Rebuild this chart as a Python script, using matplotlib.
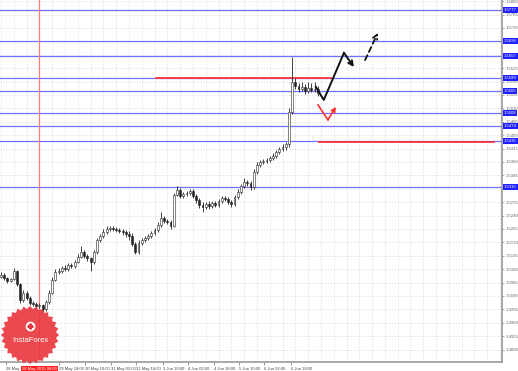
import numpy as np
import matplotlib.pyplot as plt
from matplotlib.transforms import blended_transform_factory

plt.rcParams['font.family'] = ['Liberation Sans', 'DejaVu Sans']

# H1 candles (close / high / low), first open separately
first_open = 1.5080
closes = [1.5085, 1.5077, 1.5069, 1.5074, 1.5095, 1.5061, 1.5019, 1.5038, 1.5025, 1.5012,
          1.5009, 1.5004, 1.5006, 1.4996, 1.5014, 1.5038, 1.5072, 1.5093, 1.5095, 1.5103,
          1.5100, 1.5111, 1.5108, 1.5119, 1.5132, 1.5145, 1.5134, 1.5129, 1.5119, 1.5145,
          1.5176, 1.5187, 1.5197, 1.5205, 1.5207, 1.5205, 1.5202, 1.5200, 1.5197, 1.5192,
          1.5187, 1.5166, 1.5145, 1.5168, 1.5176, 1.5181, 1.5187, 1.5194, 1.5202, 1.5215,
          1.5234, 1.5226, 1.5223, 1.5213, 1.5294, 1.5307, 1.5291, 1.5296, 1.5299, 1.5304,
          1.5291, 1.5281, 1.5268, 1.5262, 1.5270, 1.5265, 1.5273, 1.5268, 1.5278, 1.5286,
          1.5283, 1.5275, 1.5270, 1.5288, 1.5302, 1.5317, 1.5328, 1.5325, 1.5315, 1.5354,
          1.5372, 1.5380, 1.5382, 1.5385, 1.5390, 1.5396, 1.5406, 1.5414, 1.5419, 1.5427,
          1.5510, 1.5589, 1.5578, 1.5571, 1.5576, 1.5565, 1.5573, 1.5568, 1.5571, 1.5560]
highs = [1.5092, 1.5090, 1.5080, 1.5078, 1.5104, 1.5098, 1.5064, 1.5045, 1.5042, 1.5030,
         1.5018, 1.5014, 1.5012, 1.5010, 1.5020, 1.5045, 1.5080, 1.5100, 1.5103, 1.5108,
         1.5110, 1.5116, 1.5115, 1.5125, 1.5140, 1.5160, 1.5150, 1.5140, 1.5133, 1.5150,
         1.5182, 1.5193, 1.5204, 1.5212, 1.5214, 1.5212, 1.5210, 1.5207, 1.5206, 1.5203,
         1.5200, 1.5195, 1.5172, 1.5175, 1.5182, 1.5187, 1.5192, 1.5199, 1.5208, 1.5222,
         1.5248, 1.5240, 1.5231, 1.5228, 1.5300, 1.5318, 1.5312, 1.5302, 1.5305, 1.5310,
         1.5309, 1.5296, 1.5286, 1.5275, 1.5276, 1.5277, 1.5279, 1.5278, 1.5284, 1.5292,
         1.5291, 1.5288, 1.5280, 1.5294, 1.5309, 1.5323, 1.5338, 1.5334, 1.5330, 1.5362,
         1.5380, 1.5386, 1.5389, 1.5391, 1.5396, 1.5403, 1.5412, 1.5420, 1.5426, 1.5433,
         1.5520, 1.5655, 1.5600, 1.5586, 1.5590, 1.5583, 1.5590, 1.5585, 1.5588, 1.5578]
lows = [1.5076, 1.5072, 1.5064, 1.5066, 1.5071, 1.5055, 1.5012, 1.5015, 1.5020, 1.5006,
        1.5003, 1.4999, 1.4998, 1.4985, 1.4990, 1.5010, 1.5035, 1.5068, 1.5088, 1.5090,
        1.5094, 1.5096, 1.5102, 1.5104, 1.5115, 1.5128, 1.5128, 1.5120, 1.5095, 1.5114,
        1.5140, 1.5170, 1.5182, 1.5192, 1.5200, 1.5199, 1.5196, 1.5194, 1.5190, 1.5185,
        1.5175, 1.5160, 1.5140, 1.5140, 1.5162, 1.5171, 1.5176, 1.5182, 1.5190, 1.5198,
        1.5210, 1.5220, 1.5217, 1.5206, 1.5210, 1.5290, 1.5285, 1.5285, 1.5290, 1.5294,
        1.5285, 1.5272, 1.5260, 1.5250, 1.5256, 1.5258, 1.5260, 1.5262, 1.5263, 1.5272,
        1.5277, 1.5270, 1.5263, 1.5265, 1.5283, 1.5297, 1.5312, 1.5318, 1.5308, 1.5310,
        1.5348, 1.5366, 1.5374, 1.5376, 1.5380, 1.5385, 1.5390, 1.5400, 1.5408, 1.5412,
        1.5420, 1.5505, 1.5570, 1.5562, 1.5565, 1.5558, 1.5560, 1.5562, 1.5563, 1.5552]
opens = [first_open] + closes[:-1]

# levels
blue_levels = [1.5777, 1.5696, 1.5657, 1.5599, 1.5565, 1.5508, 1.5474, 1.5435, 1.5315]
red_level_hi = 1.5599
red_level_hi_span = (48.4, 103.1)
red_level_lo = 1.5432
red_level_lo_span = (99.4, 154.0)
marker_bar = 11.9
marker_label = "28 May 2015 08:00"

# forecast arrows (bar index, price)
black_x = [98.4, 100.9, 107.2, 110.3]
black_y = [1.5576, 1.5542, 1.5665, 1.5628]
dash_x = [113.8, 117.8]
dash_y = [1.5646, 1.5717]
red_x = [99.1, 102.2, 104.7]
red_y = [1.5529, 1.5490, 1.5524]

# axis
tick_step = 0.0035
y_top, y_bottom = 1.5803, 1.48575
x_tick_pos = [1.6, 18.1, 26.3, 34.4, 42.2, 50.6, 58.4, 66.6, 74.4, 82.2, 90.6]
x_tick_labels = ["28 May", "29 May 18:00", "30 May 10:00", "31 May 02:00", "31 May 18:00",
                 "3 Jun 10:00", "4 Jun 02:00", "4 Jun 18:00", "5 Jun 10:00",
                 "6 Jun 02:00", "6 Jun 18:00"]

W, H = 518, 371
fig = plt.figure(figsize=(W / 100, H / 100), dpi=100)
ax = fig.add_axes([0, 1 - 362 / H, 502 / W, 362 / H])
ax.set_xlim(-0.3, 156.6)
ax.set_ylim(y_bottom, y_top)

# grid
yt = np.round(np.arange(1.5800, y_bottom, -tick_step), 4)
for y in yt:
    ax.axhline(y, color='#dadada', lw=0.5, ls=(0, (2, 2)), zorder=0)
for x in np.arange(0, 157, 4):
    ax.axvline(x, color='#dadada', lw=0.5, ls=(0, (2, 2)), zorder=0)

# levels
for lv in blue_levels:
    ax.axhline(lv, color='#7070ff', lw=0.9, zorder=1)
ax.plot(red_level_hi_span, [red_level_hi] * 2, color='#ff2a2a', lw=1.2, zorder=2)
ax.plot(red_level_lo_span, [red_level_lo] * 2, color='#ff2a2a', lw=1.2, zorder=2)
ax.axvline(marker_bar, color='#ff7a7a', lw=0.9, zorder=1)

# candles
for i, (o, h, l, c) in enumerate(zip(opens, highs, lows, closes)):
    ax.vlines(i, l, h, color='#222222', lw=0.6, zorder=3)
    lo_b, hi_b = min(o, c), max(o, c)
    ax.bar(i, max(hi_b - lo_b, 0.00015), bottom=lo_b, width=0.6,
           facecolor='white' if c >= o else '#222222',
           edgecolor='#222222', lw=0.4, zorder=4)

# arrows
ax.plot(black_x[:-1], black_y[:-1], color='#111111', lw=1.4, zorder=5)
ax.annotate('', xy=(black_x[-1], black_y[-1]), xytext=(black_x[-2], black_y[-2]),
            arrowprops=dict(arrowstyle='->', color='#111111', lw=1.4,
                            mutation_scale=8, shrinkA=0, shrinkB=0), zorder=5)
ax.annotate('', xy=(dash_x[1], dash_y[1]), xytext=(dash_x[0], dash_y[0]),
            arrowprops=dict(arrowstyle='->', color='#111111', lw=1.3, ls=(0, (3, 2)),
                            mutation_scale=8, shrinkA=0, shrinkB=0), zorder=5)
ax.plot(red_x[:-1], red_y[:-1], color='#ff3030', lw=1.2, zorder=5)
ax.annotate('', xy=(red_x[-1], red_y[-1]), xytext=(red_x[-2], red_y[-2]),
            arrowprops=dict(arrowstyle='->', color='#ff3030', lw=1.2,
                            mutation_scale=7, shrinkA=0, shrinkB=0), zorder=5)

# axes styling
for s in ['top', 'left']:
    ax.spines[s].set_visible(False)
for s in ['right', 'bottom']:
    ax.spines[s].set_color('#999999')
    ax.spines[s].set_linewidth(1.2)
ax.yaxis.tick_right()
ax.set_yticks(yt)
# price labels hidden behind the highlighted level labels
ylabels = []
for v in yt:
    covered = any(abs(v - lv) < 0.0009 for lv in blue_levels)
    ylabels.append('' if covered else f"{v:.4f}")
ax.set_yticklabels(ylabels)
ax.tick_params(axis='y', labelsize=3.1, colors='#666666', length=1.5, width=0.4, pad=1.2)
ax.set_xticks(x_tick_pos)
ax.set_xticklabels(x_tick_labels, ha='left')
ax.tick_params(axis='x', labelsize=3.0, colors='#444444', length=2, width=0.4, pad=1.5)

tr = blended_transform_factory(ax.transAxes, ax.transData)
for lv in blue_levels:
    ax.text(1.004, lv, f"{lv:.4f}", transform=tr, fontsize=3.1, color='white',
            va='center', ha='left',
            bbox=dict(boxstyle='square,pad=0.2', facecolor='#1f1fff', edgecolor='none'))
trx = blended_transform_factory(ax.transData, ax.transAxes)
ax.text(marker_bar, -0.013, marker_label, transform=trx, fontsize=3.0, color='white',
        va='top', ha='center',
        bbox=dict(boxstyle='square,pad=0.25', facecolor='#ff2020', edgecolor='none'))

# InstaForex badge
lax = fig.add_axes([0, 6 / H, 60 / W, 60 / H])
lax.set_xlim(-1, 1)
lax.set_ylim(-1, 1)
lax.axis('off')
n = 28
ang = np.linspace(0, 2 * np.pi, 2 * n, endpoint=False)
rad = np.where(np.arange(2 * n) % 2 == 0, 0.97, 0.87)
lax.fill(rad * np.cos(ang), rad * np.sin(ang), color='#e8363c', alpha=0.9, lw=0)
lax.text(0, -0.2, "InstaForex", color='white', fontsize=5.5, ha='center', va='center')
lax.plot(0, 0.3, marker='o', ms=6, mfc='white', mec='white')
lax.plot(0, 0.3, marker='P', ms=3.5, mfc='#e8363c', mec='#e8363c')

fig.savefig('out.png', dpi=100)
